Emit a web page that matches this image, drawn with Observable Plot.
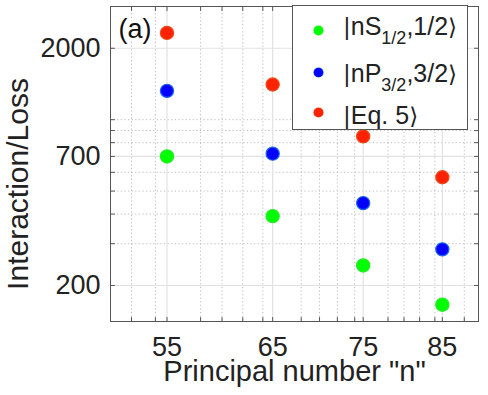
<!DOCTYPE html>
<html>
<head>
<meta charset="utf-8">
<script src="https://cdn.jsdelivr.net/npm/d3@7"></script>
<script src="https://cdn.jsdelivr.net/npm/@observablehq/plot@0.6"></script>
<style>
  html, body { margin: 0; padding: 0; background: #fff; }
  #wrap { position: relative; width: 488px; height: 395px; font-family: "Liberation Sans", Arial, sans-serif; color: #222; }
  .lg-box { position: absolute; left: 292px; top: 5px; width: 176px; height: 125px; border: 1px solid #555; background: #fff; box-sizing: border-box; }
  .lg-row { position: absolute; left: 343px; font-size: 25px; line-height: 25px; white-space: nowrap; color: #222; }
  .lg-dot { position: absolute; width: 9px; height: 9px; border-radius: 50%; }
  .sub { font-size: 18px; position: relative; top: 9px; }
  .ang { font-family: "DejaVu Sans", sans-serif; font-size: 23px; }
</style>
</head>
<body>
<div id="wrap"></div>
<script>
// ---- data ----
const n = [55, 65, 75, 85];
const nS = [700, 392, 243, 166];      // |nS1/2,1/2>
const nP = [1323, 719, 445, 284];     // |nP3/2,3/2>
const eq5 = [2322, 1407, 850, 572];   // |Eq. 5>
const xTicks = [55, 65, 75, 85];
const xMinor = [52, 54, 58, 60, 62, 64, 68, 70, 72, 74, 78, 80, 82, 84, 88];
const yTicks = [200, 700, 2000];
const yMinor = [300, 400, 500, 600, 800, 900, 1000];
const seriesColors = ["#00ff00", "#0000ff", "#ff2200"];
const seriesStrokes = ["#22ee22", "#1a66ee", "#f04a1a"];

const rows = [];
n.forEach((v, i) => {
  rows.push({n: v, val: nS[i], s: 0});
  rows.push({n: v, val: nP[i], s: 1});
  rows.push({n: v, val: eq5[i], s: 2});
});

const axisColor = "#555";
const tickShape = {draw(ctx, l) { ctx.moveTo(0, 0); ctx.lineTo(0, -l); }};
const xAllTicks = xTicks.concat(xMinor);
const yAllTicks = yTicks.concat(yMinor);

const tickOpts = {length: 4, anchor: "start", shape: tickShape, stroke: axisColor, strokeWidth: 1};

const chart = Plot.plot({
  width: 488,
  height: 395,
  marginLeft: 110,
  marginRight: 10,
  marginTop: 6,
  marginBottom: 74,
  style: {fontFamily: "'Liberation Sans', Arial, sans-serif", color: "#222", background: "#fff"},
  x: {type: "log", domain: [50.3, 90], axis: null},
  y: {type: "log", domain: [141, 3000], axis: null},
  marks: [
    Plot.ruleX(xMinor, {x: d => d, stroke: "#bdbdbd", strokeDasharray: "1.2,2.4", strokeWidth: 1}),
    Plot.ruleY(yMinor, {y: d => d, stroke: "#bdbdbd", strokeDasharray: "1.2,2.4", strokeWidth: 1}),
    Plot.ruleX(xTicks, {x: d => d, stroke: "#e2e2e2", strokeWidth: 1.2}),
    Plot.ruleY(yTicks, {y: d => d, stroke: "#e2e2e2", strokeWidth: 1.2}),
    Plot.vector(xAllTicks, {x: d => d, frameAnchor: "bottom", rotate: 0, ...tickOpts}),
    Plot.vector(xAllTicks, {x: d => d, frameAnchor: "top", rotate: 180, ...tickOpts}),
    Plot.vector(yAllTicks, {y: d => d, frameAnchor: "left", rotate: 90, ...tickOpts}),
    Plot.vector(yAllTicks, {y: d => d, frameAnchor: "right", rotate: -90, ...tickOpts}),
    Plot.frame({stroke: axisColor, strokeWidth: 1}),
    Plot.text(xTicks, {x: d => d, text: d => String(d), frameAnchor: "bottom", lineAnchor: "top", textAnchor: "middle", dy: 15, fontSize: 27, fill: "#222"}),
    Plot.text(yTicks, {y: d => d, text: d => String(d), frameAnchor: "left", lineAnchor: "middle", textAnchor: "end", dx: -10, fontSize: 27, fill: "#222"}),
    Plot.text(["Principal number \"n\""], {frameAnchor: "bottom", textAnchor: "middle", dy: 59.5, fontSize: 29, fill: "#222"}),
    Plot.text(["Interaction/Loss"], {frameAnchor: "left", textAnchor: "middle", rotate: -90, dx: -92, dy: 20, fontSize: 30, fill: "#222"}),
    Plot.text(["(a)"], {frameAnchor: "top-left", dx: 8, dy: 12, textAnchor: "start", lineAnchor: "top", fontSize: 27, fill: "#111", stroke: "#fff", strokeWidth: 6, paintOrder: "stroke"}),
    Plot.dot(rows, {x: "n", y: "val", r: 6.6, fill: d => seriesColors[d.s], stroke: d => seriesStrokes[d.s], strokeWidth: 1.2})
  ]
});

const wrap = document.getElementById("wrap");
wrap.appendChild(chart);

// legend overlay
const box = document.createElement("div");
box.className = "lg-box";
wrap.appendChild(box);
const legendItems = [
  {html: '<span class="ang">|</span>nS<span class="sub">1/2</span>,1/2<span class="ang">⟩</span>', top: 14, cy: 30},
  {html: '<span class="ang">|</span>nP<span class="sub">3/2</span>,3/2<span class="ang">⟩</span>', top: 60.5, cy: 72.5},
  {html: '<span class="ang">|</span>Eq. 5<span class="ang">⟩</span>', top: 102.5, cy: 112}
];
legendItems.forEach((it, i) => {
  const dot = document.createElement("div");
  dot.className = "lg-dot";
  dot.style.left = (318 - 4.5) + "px";
  dot.style.top = (it.cy - 4.5) + "px";
  dot.style.background = seriesColors[i];
  dot.style.boxShadow = "0 0 0 0.6px " + seriesStrokes[i];
  wrap.appendChild(dot);
  const row = document.createElement("div");
  row.className = "lg-row";
  row.style.top = it.top + "px";
  row.innerHTML = it.html;
  wrap.appendChild(row);
});
</script>
</body>
</html>
